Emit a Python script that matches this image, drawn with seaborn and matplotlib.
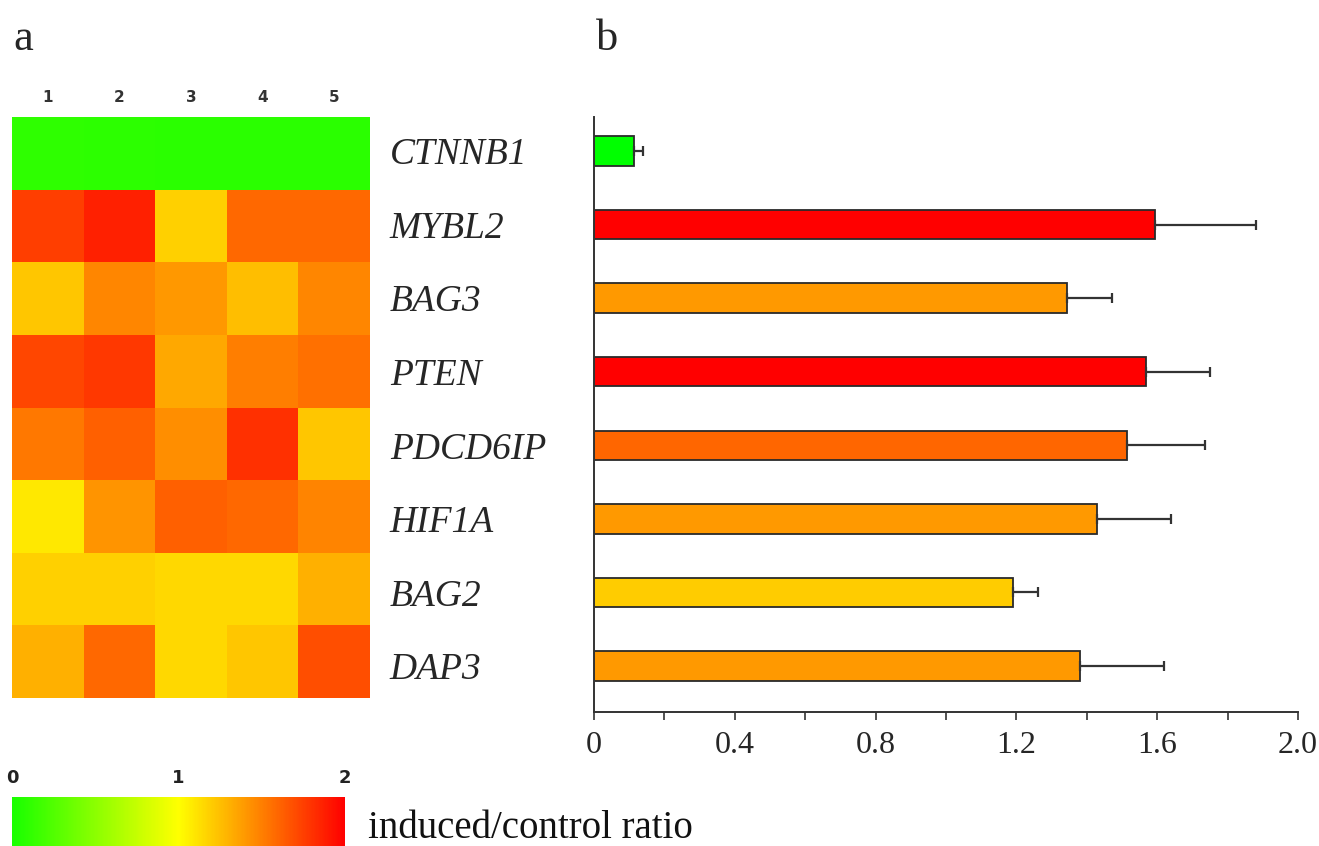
import numpy as np
import pandas as pd
import matplotlib
matplotlib.use("Agg")
import matplotlib.pyplot as plt
from matplotlib.colors import LinearSegmentedColormap
from matplotlib.ticker import MultipleLocator
import seaborn as sns

# ---------------- data ----------------
genes = ["CTNNB1", "MYBL2", "BAG3", "PTEN", "PDCD6IP", "HIF1A", "BAG2", "DAP3"]
samples = ["1", "2", "3", "4", "5"]
heat_ctnnb1 = [0.10, 0.09, 0.08, 0.08, 0.08]
heat_mybl2 = [1.75, 1.87, 1.18, 1.59, 1.59]
heat_bag3 = [1.22, 1.47, 1.40, 1.25, 1.47]
heat_pten = [1.72, 1.78, 1.34, 1.50, 1.56]
heat_pdcd6ip = [1.53, 1.62, 1.44, 1.81, 1.22]
heat_hif1a = [1.09, 1.42, 1.62, 1.59, 1.48]
heat_bag2 = [1.18, 1.18, 1.15, 1.15, 1.31]
heat_dap3 = [1.31, 1.59, 1.15, 1.22, 1.69]

ratio_mean = [0.115, 1.594, 1.344, 1.569, 1.515, 1.428, 1.190, 1.380]
ratio_err = [0.023, 0.287, 0.127, 0.180, 0.220, 0.211, 0.070, 0.240]
bar_colors = ["#00FF00", "#FF0000", "#FF9900", "#FF0000", "#FF6600", "#FF9900", "#FFCC00", "#FF9900"]
x_ticks = [0, 0.4, 0.8, 1.2, 1.6, 2.0]
x_tick_labels = ["0", "0.4", "0.8", "1.2", "1.6", "2.0"]
cbar_ticks = [0, 1, 2]

# ---------------- style ----------------
sns.set_style("white")
plt.rcParams["font.family"] = ["Liberation Serif", "DejaVu Serif"]

W, H = 1319, 846
fig = plt.figure(figsize=(W / 100, H / 100), dpi=100)

def fx(px):
    return px / W

def fy(px):
    return 1 - px / H

# ---------------- heatmap (panel a) ----------------
heat = pd.DataFrame([heat_ctnnb1, heat_mybl2, heat_bag3, heat_pten,
                     heat_pdcd6ip, heat_hif1a, heat_bag2, heat_dap3],
                    index=genes, columns=samples)
cmap = LinearSegmentedColormap.from_list(
    "gyr", [(0.0, "#18FF00"), (0.5, "#FFFF00"), (1.0, "#FF0000")])

hax = fig.add_axes([fx(12), fy(698), fx(370) - fx(12), fy(117) - fy(698)])
cax = fig.add_axes([fx(12), 0.0, fx(345) - fx(12), fy(797)])
sns.heatmap(heat, cmap=cmap, vmin=0, vmax=2, ax=hax, cbar_ax=cax,
            cbar_kws={"orientation": "horizontal"},
            xticklabels=samples, yticklabels=False)
hax.xaxis.tick_top()
hax.tick_params(axis="x", length=0, pad=9)
for lab in hax.get_xticklabels():
    lab.set_family("DejaVu Sans")
    lab.set_fontweight("bold")
    lab.set_fontsize(11)
    lab.set_color("#333333")
    lab.set_rotation(0)
hax.set_xlabel("")
hax.set_ylabel("")

cbar = hax.collections[0].colorbar
cbar.set_ticks(cbar_ticks)
cbar.set_ticklabels([str(t) for t in cbar_ticks])
cbar.outline.set_visible(False)
cax.xaxis.set_ticks_position("top")
cax.tick_params(axis="x", length=0, pad=7)
for lab in cax.get_xticklabels():
    lab.set_family("DejaVu Sans")
    lab.set_fontweight("bold")
    lab.set_fontsize(13)
    lab.set_color("#222222")

fig.text(fx(368), fy(828), "induced/control ratio", fontsize=28,
         ha="left", va="center", color="#111111")

# ---------------- bar chart (panel b) ----------------
bax = fig.add_axes([fx(594), fy(712), fx(1298) - fx(594), fy(117) - fy(712)])
bars_df = pd.DataFrame({"gene": genes, "ratio": ratio_mean})
sns.barplot(data=bars_df, x="ratio", y="gene", hue="gene", palette=bar_colors,
            saturation=1, legend=False, orient="h", width=0.4,
            edgecolor="#2a2a2a", linewidth=1.3, ax=bax)
bax.errorbar(ratio_mean, np.arange(len(genes)),
             xerr=[np.zeros(len(genes)), ratio_err], fmt="none",
             ecolor="#333333", elinewidth=1.6, capsize=3.5, capthick=1.6)
bax.set_xlim(0, 2.0)
bax.set_ylim(7.625, -0.462)
bax.set_xticks(x_ticks)
bax.set_xticklabels(x_tick_labels)
bax.xaxis.set_minor_locator(MultipleLocator(0.2))
bax.tick_params(axis="x", which="both", direction="out", length=6,
                width=1.2, color="#333333", bottom=True, labelsize=23, pad=8)
bax.tick_params(axis="y", length=0, pad=147, labelsize=27)
for lab in bax.get_yticklabels():
    lab.set_ha("left")
    lab.set_style("italic")
bax.set_xlabel("")
bax.set_ylabel("")
for s in ["top", "right"]:
    bax.spines[s].set_visible(False)
for s in ["left", "bottom"]:
    bax.spines[s].set_color("#333333")
    bax.spines[s].set_linewidth(1.4)

# ---------------- panel letters ----------------
fig.text(fx(13), fy(50), "a", fontsize=32, ha="left", va="baseline")
fig.text(fx(596), fy(50), "b", fontsize=32, ha="left", va="baseline")

fig.savefig("out.png", dpi=100)
